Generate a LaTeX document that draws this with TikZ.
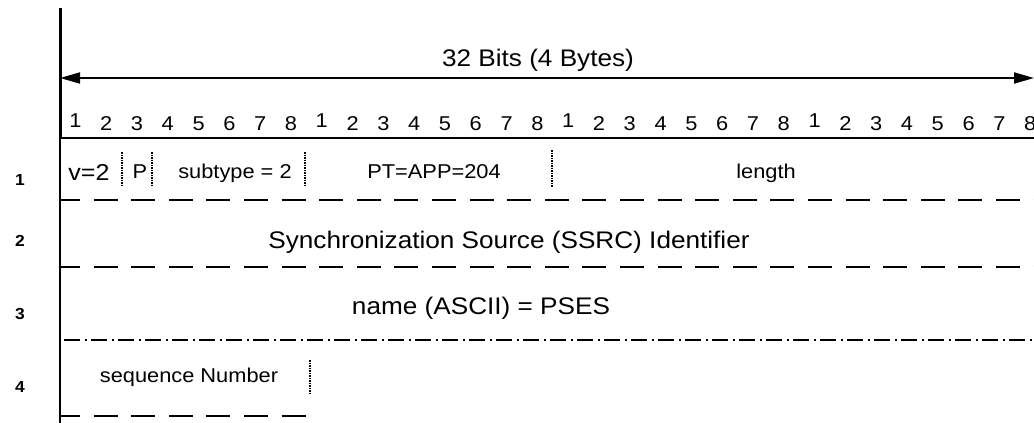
\documentclass[tikz,border=0pt]{standalone}
\usepackage{fontspec}
\setmainfont{Liberation Sans}[FakeStretch=1.09]
\usetikzlibrary{arrows.meta}
\newcommand{\pxfont}[1]{\fontsize{#1}{#1}\selectfont}

\begin{document}
\begin{tikzpicture}[x=1pt,y=-1pt,line width=1.5pt,
  dashln/.style={line width=2pt,dash pattern=on 24pt off 13.6pt,dash phase=4pt},
  dashdotln/.style={line width=1.6pt,dash pattern=on 16pt off 4.5pt on 2pt off 4.5pt},
  sepln/.style={line width=1.4pt,dash pattern=on 1.5pt off 1pt},
  headtip/.tip={Triangle[length=20pt,width=11pt]},
  bigtxt/.style={font=\pxfont{24},anchor=base},
  fieldtxt/.style={font=\pxfont{20},anchor=base},
  rowtxt/.style={font=\pxfont{16}\bfseries,anchor=base}]
\tikzstyle{every node}+=[inner sep=0pt]
\useasboundingbox (0,0) rectangle (1034,423);
\coordinate (topL) at (60,8);
\coordinate (hdrL) at (60,138);
\coordinate (hdrR) at (1034,138);
\coordinate (botL) at (60,423);
\coordinate (arrL) at (60,78);
\coordinate (arrR) at (1034,78);
\draw [line width=3pt] (topL) -- (hdrL);
\draw (hdrL) -- (botL);
\draw [line width=2pt,headtip-headtip] (arrL) -- (arrR);
\node [bigtxt] (width) at (538,66) {32 Bits (4 Bytes)};
\foreach \b in {0,...,31} {
  \pgfmathtruncatemacro{\d}{mod(\b,8)+1}
  \pgfmathsetmacro{\lift}{\d==1 ? 3 : 0}
  \node [fieldtxt] (bit\b) at (75.4+30.8*\b,130-\lift) {\d};
}
\draw (hdrL) -- (hdrR);
\node [rowtxt] (row1) at (20,185) {1};
\node [rowtxt] (row2) at (20,246) {2};
\node [rowtxt] (row3) at (20,319) {3};
\node [rowtxt] (row4) at (20,392) {4};
\node [font=\pxfont{23},anchor=base] (ver) at (89,180) {v=2};
\node [fieldtxt] (pad) at (140,178) {P};
\node [fieldtxt] (subtype) at (235,178) {subtype = 2};
\node [fieldtxt] (ptype) at (434,178) {PT=APP=204};
\node [fieldtxt] (length) at (766,178) {length};
\coordinate (s1t) at (122,152); \coordinate (s1b) at (122,185);
\coordinate (s2t) at (152,152); \coordinate (s2b) at (152,185);
\coordinate (s3t) at (305,152); \coordinate (s3b) at (305,185);
\coordinate (s4t) at (552,150); \coordinate (s4b) at (552,187);
\draw [sepln] (s1t) -- (s1b);
\draw [sepln] (s2t) -- (s2b);
\draw [sepln] (s3t) -- (s3b);
\draw [sepln] (s4t) -- (s4b);
\coordinate (l1L) at (60,200); \coordinate (l1R) at (1034,200);
\draw [dashln] (l1L) -- (l1R);
\node [bigtxt] (ssrc) at (509,248) {Synchronization Source (SSRC) Identifier};
\coordinate (l2L) at (60,267); \coordinate (l2R) at (1034,267);
\draw [dashln] (l2L) -- (l2R);
\node [bigtxt] (name) at (481,314) {name (ASCII) = PSES};
\coordinate (l3L) at (64,340); \coordinate (l3R) at (1034,340);
\draw [dashdotln] (l3L) -- (l3R);
\node [fieldtxt] (seqno) at (189,382) {sequence Number};
\coordinate (s5t) at (310,360); \coordinate (s5b) at (310,395);
\draw [sepln] (s5t) -- (s5b);
\coordinate (l4L) at (60,416); \coordinate (l4R) at (307,416);
\draw [dashln] (l4L) -- (l4R);
\end{tikzpicture}
\end{document}
